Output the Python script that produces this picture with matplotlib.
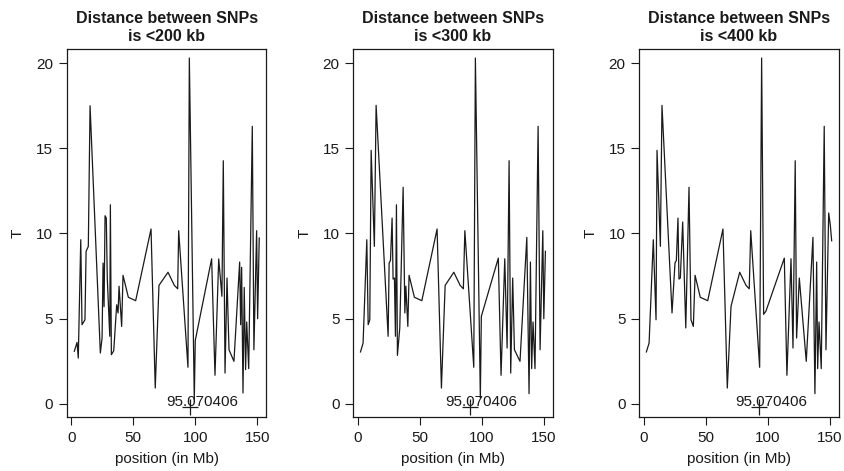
import matplotlib

matplotlib.use("Agg")
import matplotlib.pyplot as plt

plt.rcParams["font.family"] = ["Liberation Sans", "DejaVu Sans"]

titles = [
    "Distance between SNPs\nis <200 kb",
    "Distance between SNPs\nis <300 kb",
    "Distance between SNPs\nis <400 kb",
]

# position (Mb) and T
pos_200 = [2.4, 4.6, 5.6, 7.6, 8.6, 11.0, 11.9, 13.7, 15.1, 23.4, 24.8, 25.6, 26.4, 27.2, 28.2, 29.0,
           31.0, 31.5, 32.3, 34.2, 36.6, 37.7, 38.5, 40.6, 41.7, 46.0, 51.9, 64.3, 67.7, 70.7, 78.0,
           83.1, 85.8, 86.6, 94.1, 95.2, 99.2, 100.0, 113.2, 115.9, 118.9, 121.5, 122.6, 124.0, 125.6,
           127.2, 131.2, 135.8, 136.6, 137.4, 138.5, 139.5, 140.6, 141.5, 143.1, 146.0, 147.3, 149.5,
           150.3, 151.6]
t_200 = [3.08, 3.6, 2.68, 9.63, 4.64, 4.93, 8.95, 9.24, 17.5, 2.98, 3.86, 8.26, 5.7, 11.04, 10.9, 7.38,
         3.96, 11.68, 2.88, 3.11, 5.81, 5.33, 6.9, 4.54, 7.54, 6.25, 6.05, 10.26, 0.92, 6.95, 7.72,
         6.95, 6.75, 10.16, 2.14, 20.3, 0.24, 3.72, 8.51, 1.67, 8.5, 6.31, 14.27, 1.8, 7.38,
         3.17, 2.49, 8.32, 4.64, 8.01, 0.63, 6.83, 2.0, 4.8, 2.06, 16.29, 3.17, 10.16,
         4.99, 9.73]

pos_300 = [2.3, 4.4, 7.4, 8.5, 9.8, 10.9, 13.5, 14.9, 24.6, 25.4, 26.5, 27.8, 28.6, 29.7, 30.5, 31.3,
           32.1, 34.0, 36.7, 38.1, 38.9, 40.5, 41.5, 45.8, 51.8, 64.1, 67.6, 70.6, 77.6, 82.7, 85.3,
           86.5, 93.7, 95.0, 99.0, 99.8, 113.5, 115.7, 118.7, 120.6, 122.2, 123.5, 125.1, 126.5,
           131.0, 136.5, 138.3, 139.4, 140.4, 141.5, 143.1, 145.6, 147.2, 149.4, 150.2, 151.5]
t_300 = [3.04, 3.56, 9.63, 4.64, 4.93, 14.88, 9.24, 17.52, 3.96, 8.26, 8.42, 10.9, 7.32, 7.38, 3.96, 11.68,
         2.84, 4.45, 12.71, 5.33, 6.9, 4.54, 7.54, 6.25, 6.05, 10.26, 0.92, 6.95, 7.72, 6.95, 6.75,
         10.16, 2.14, 20.3, 0.33, 5.13, 8.55, 1.67, 8.51, 3.27, 14.27, 1.8, 7.38, 3.17,
         2.49, 9.77, 0.59, 8.32, 2.06, 4.8, 2.06, 16.29, 3.17, 10.16, 4.99, 8.95]

pos_400 = [2.2, 4.4, 7.8, 10.0, 10.8, 13.5, 14.8, 22.9, 25.3, 26.4, 27.7, 28.5, 29.6, 31.5, 34.0, 36.6,
           38.2, 40.1, 41.5, 45.7, 51.7, 64.0, 67.5, 70.5, 77.5, 82.6, 85.2, 86.4, 93.6, 95.2, 96.8,
           98.7, 113.5, 115.6, 118.9, 120.5, 122.3, 123.4, 125.6, 131.2, 136.6, 138.2, 139.6, 140.4,
           141.5, 143.3, 145.7, 147.1, 149.3, 150.6, 151.7]
t_400 = [3.04, 3.56, 9.63, 4.93, 14.88, 9.24, 17.52, 5.33, 8.26, 8.42, 10.9, 7.32, 7.38, 10.67, 4.45, 12.71,
         4.93, 4.54, 7.54, 6.25, 6.05, 10.26, 0.92, 5.72, 7.72, 6.95, 6.75, 10.16, 2.14, 20.3, 5.25,
         5.44, 8.55, 1.67, 8.51, 3.27, 14.27, 3.86, 7.38, 2.49, 9.77, 0.59, 8.32, 2.06,
         4.8, 2.06, 16.29, 3.17, 11.2, 10.5, 9.57]

positions = [pos_200, pos_300, pos_400]
t_values = [t_200, t_300, t_400]

# the "95.070406" mark drawn in each panel
mark_label = "95.070406"
mark_x = [95.7, 90.4, 93.1]
mark_y = -0.2
label_x = [105.4, 99.8, 102.6]
label_y = 0.1

ink = "#1a1a1a"
fig = plt.figure(figsize=(8.44, 4.71), dpi=100)

lefts = [67 / 844, 353.3 / 844, 639.3 / 844]
for i in range(3):
    ax = fig.add_axes([lefts[i], 54 / 471, 199.3 / 844, 368 / 471])
    ax.plot(positions[i], t_values[i], color=ink, lw=0.9)
    ax.plot(mark_x[i], mark_y, marker="+", ms=11, mew=0.9, color=ink)
    ax.text(label_x[i], label_y, mark_label, ha="center", va="center", fontsize=11, color=ink)

    ax.set_xlim(-3.5, 157.3)
    ax.set_ylim(-0.78, 20.83)
    ax.set_xticks([0, 50, 100, 150])
    ax.set_yticks([0, 5, 10, 15, 20])
    ax.tick_params(direction="out", length=6, width=0.8, labelsize=11, colors=ink, pad=4)
    for s in ax.spines.values():
        s.set_linewidth(0.9)
        s.set_color(ink)

    ax.set_title(titles[i], fontsize=11.5, fontweight="bold", color=ink, pad=6, linespacing=1.2)
    ax.set_xlabel("position (in Mb)", fontsize=11, color=ink, labelpad=5)
    ax.set_ylabel("T", fontsize=11, color=ink, labelpad=8)

fig.savefig("out.png", dpi=100)
